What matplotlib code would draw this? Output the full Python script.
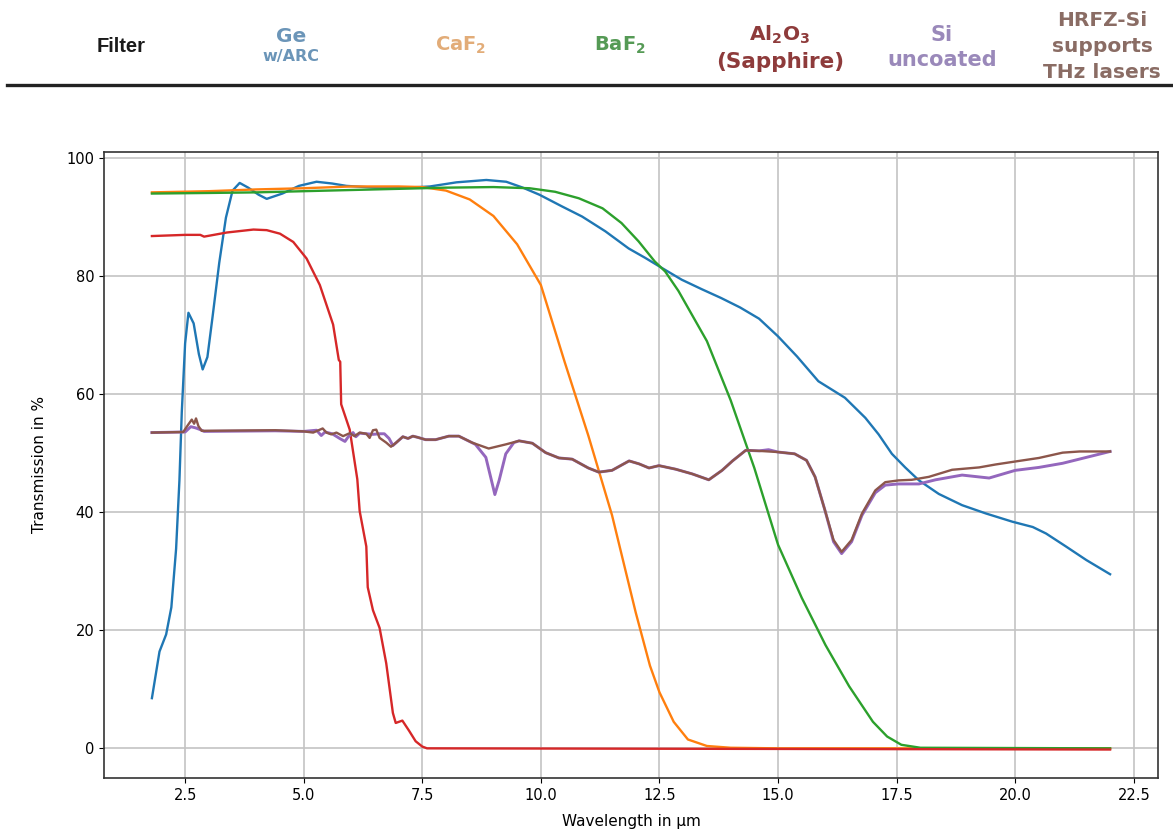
import matplotlib
matplotlib.use("Agg")
import matplotlib.pyplot as plt
from matplotlib.lines import Line2D

# Ge with anti-reflection coating
ge_x = [1.8, 1.96, 2.1, 2.21, 2.31, 2.38, 2.43, 2.5, 2.57, 2.68, 2.79, 2.87, 2.97, 3.08, 3.22, 3.36, 3.5,
        3.65, 3.83, 4.05, 4.22, 4.55, 4.9, 5.27, 5.6, 5.9, 6.5, 7.0, 7.44, 7.66, 8.22, 8.85, 9.27, 9.62,
        9.97, 10.45, 10.87, 11.36, 11.85, 12.2, 12.55, 12.97, 13.39, 13.8, 14.2, 14.6, 15.0, 15.4, 15.85,
        16.41, 16.84, 17.12, 17.4, 17.68, 17.97, 18.39, 18.88, 19.38, 19.94, 20.37, 20.65, 21.07, 21.5, 22.0]
ge_y = [8.5, 16.4, 19.3, 23.9, 33.8, 45.4, 57, 68.6, 73.8, 72, 66.8, 64.2, 66.3, 73.2, 82.3, 89.9, 94.5,
        95.8, 95, 93.8, 93.1, 94, 95.3, 96, 95.7, 95.3, 95.0, 95.0, 95.1, 95.2, 95.9, 96.3, 96.0, 95,
        93.8, 91.8, 90.1, 87.6, 84.7, 83.1, 81.4, 79.4, 77.8, 76.3, 74.7, 72.8, 69.8, 66.4, 62.2,
        59.4, 56, 53.2, 49.9, 47.6, 45.4, 43.1, 41.2, 39.8, 38.4, 37.5, 36.4, 34.2, 31.9, 29.5]

caf2_x = [1.8, 3, 4, 5, 6, 7, 7.5, 8.0, 8.5, 9.0, 9.5, 10.0, 10.5, 11.0, 11.5, 12.0, 12.3, 12.5, 12.8,
          13.1, 13.5, 14.0, 15, 22]
caf2_y = [94.2, 94.4, 94.7, 94.9, 95.2, 95.2, 95.1, 94.5, 93, 90.2, 85.4, 78.5, 65.5, 53, 39.5, 23, 14,
          9.5, 4.5, 1.5, 0.4, 0.1, 0, 0]

baf2_x = [1.8, 3, 4, 5, 6, 7, 8, 9, 9.76, 10.3, 10.8, 11.3, 11.7, 12.06, 12.4, 12.62, 12.9, 13.5, 14.0,
          14.5, 15.0, 15.5, 16.0, 16.5, 17.0, 17.3, 17.6, 18.0, 22]
baf2_y = [94.0, 94.1, 94.2, 94.4, 94.6, 94.8, 95.0, 95.1, 94.9, 94.3, 93.2, 91.5, 89, 85.9, 82.5, 80.8,
          77.5, 69, 59, 47.5, 34.5, 25.5, 17.5, 10.5, 4.5, 2, 0.6, 0.1, 0]

al2o3_x = [1.8, 2.5, 2.82, 2.9, 3.38, 3.94, 4.22, 4.5, 4.78, 5.06, 5.34, 5.62, 5.74, 5.77, 5.79, 5.97,
           6.13, 6.18, 6.32, 6.35, 6.46, 6.6, 6.74, 6.88, 6.94, 7.08, 7.22, 7.36, 7.5, 7.6, 15, 22]
al2o3_y = [86.8, 87.0, 87.0, 86.7, 87.4, 87.9, 87.8, 87.2, 85.8, 83, 78.5, 71.8, 65.8, 65.5, 58.3, 54,
           45.6, 40.2, 34.2, 27.3, 23.4, 20.4, 14.4, 6, 4.3, 4.7, 3.0, 1.2, 0.3, 0, -0.1, -0.2]

si_x = [1.8, 2.5, 2.62, 2.72, 2.82, 2.9, 4.4, 5.0, 5.27, 5.37, 5.45, 5.6, 5.76, 5.87, 5.94, 6.04, 6.1,
        6.18, 6.32, 6.46, 6.6, 6.7, 6.8, 6.88, 6.95, 7.09, 7.2, 7.3, 7.4, 7.57, 7.78, 8.06, 8.27, 8.62,
        8.84, 8.94, 9.03, 9.12, 9.26, 9.43, 9.54, 9.82, 10.1, 10.38, 10.66, 11.0, 11.22, 11.5, 11.86,
        12.07, 12.28, 12.49, 12.84, 13.19, 13.54, 13.82, 14.04, 14.32, 14.6, 14.8, 15.0, 15.35, 15.6,
        15.78, 15.99, 16.17, 16.34, 16.55, 16.77, 17.05, 17.26, 17.54, 17.97, 18.32, 18.88, 19.45, 20.0,
        20.5, 21.0, 21.5, 22.0]
si_y = [53.5, 53.6, 54.5, 54.3, 54.0, 53.7, 53.8, 53.7, 53.9, 53.0, 53.6, 53.3, 52.5, 52.0, 52.8, 53.5,
        52.8, 53.4, 53.3, 53.2, 53.3, 53.3, 52.5, 51.3, 51.8, 52.8, 52.5, 52.9, 52.7, 52.3, 52.3, 52.9,
        52.9, 51.5, 49.3, 46.0, 43.0, 45.4, 49.9, 51.8, 52.1, 51.7, 50.1, 49.2, 49.0, 47.5, 46.8, 47.1,
        48.7, 48.2, 47.5, 47.9, 47.3, 46.5, 45.5, 47.1, 48.7, 50.5, 50.4, 50.6, 50.2, 49.9, 48.8,
        46.0, 40.3, 35.0, 33.0, 35.0, 39.5, 43.3, 44.6, 44.8, 44.8, 45.5, 46.3, 45.8, 47.1,
        47.6, 48.3, 49.3, 50.3]

hrfz_x = [1.8, 2.46, 2.57, 2.64, 2.69, 2.73, 2.78, 2.85, 4.4, 5.0, 5.2, 5.4, 5.48, 5.58, 5.69, 5.83, 5.97,
          6.07, 6.18, 6.32, 6.39, 6.46, 6.53, 6.6, 6.74, 6.84, 6.95, 7.09, 7.2, 7.3, 7.4, 7.57, 7.78, 8.06,
          8.27, 8.55, 8.9, 9.26, 9.54, 9.82, 10.1, 10.38, 10.66, 11.0, 11.22, 11.5, 11.86, 12.07, 12.28,
          12.49, 12.84, 13.19, 13.54, 13.82, 14.04, 14.32, 14.6, 15.0, 15.35, 15.6, 15.78, 15.99, 16.17,
          16.34, 16.55, 16.77, 17.05, 17.26, 17.54, 17.82, 18.18, 18.67, 19.24, 19.59, 20.0, 20.5, 21.0,
          21.36, 22.0]
hrfz_y = [53.5, 53.6, 54.9, 55.7, 55.0, 55.9, 54.6, 53.8, 53.9, 53.7, 53.5, 54.2, 53.5, 53.2, 53.5, 52.9,
          53.4, 52.9, 53.5, 53.3, 52.6, 53.9, 54.0, 52.6, 51.8, 51.1, 51.8, 52.8, 52.5, 52.9, 52.7, 52.3,
          52.3, 52.9, 52.9, 51.8, 50.8, 51.5, 52.1, 51.7, 50.1, 49.2, 49.0, 47.5, 46.8, 47.1, 48.7, 48.2,
          47.5, 47.9, 47.3, 46.5, 45.5, 47.1, 48.7, 50.5, 50.4, 50.2, 49.9, 48.8, 46.0, 40.3, 35.3, 33.3,
          35.3, 39.8, 43.7, 45.1, 45.4, 45.5, 46.0, 47.2, 47.6, 48.1, 48.6, 49.2, 50.1, 50.3, 50.3]

W, H = 1173, 836
fig = plt.figure(figsize=(W / 100, H / 100), dpi=100)

# header row
bold = dict(family="DejaVu Sans", fontweight="bold", ha="center", va="center")
fig.text(121 / W, 1 - 47 / H, "Filter", family="Liberation Sans", fontweight="bold",
         fontsize=14.5, ha="center", va="center", color="#1a1a1a")
fig.text(291 / W, 1 - 37 / H, "Ge", fontsize=14.5, color="#6b95b8", **bold)
fig.text(291 / W, 1 - 57 / H, "w/ARC", fontsize=11.5, color="#6b95b8", **bold)
fig.text(461 / W, 1 - 45 / H, r"$\mathbf{CaF_2}$", fontsize=14, color="#e2ac78", **bold)
fig.text(620 / W, 1 - 45 / H, r"$\mathbf{BaF_2}$", fontsize=14, color="#559a55", **bold)
fig.text(780 / W, 1 - 35 / H, r"$\mathbf{Al_2O_3}$", fontsize=14.5, color="#8e3b3b", **bold)
fig.text(780 / W, 1 - 62 / H, "(Sapphire)", fontsize=15.5, color="#8e3b3b", **bold)
fig.text(942 / W, 1 - 35 / H, "Si", fontsize=15, color="#9a89ba", **bold)
fig.text(942 / W, 1 - 60 / H, "uncoated", fontsize=15, color="#9a89ba", **bold)
fig.text(1102 / W, 1 - 21 / H, "HRFZ-Si", fontsize=14.5, color="#8a6c64", **bold)
fig.text(1102 / W, 1 - 47 / H, "supports", fontsize=14.5, color="#8a6c64", **bold)
fig.text(1102 / W, 1 - 73 / H, "THz lasers", fontsize=14.5, color="#8a6c64", **bold)
fig.add_artist(Line2D([7 / W, 1], [1 - 85 / H, 1 - 85 / H], transform=fig.transFigure,
                      color="#222222", lw=2.4))

ax = fig.add_axes([104 / W, 1 - 778 / H, (1158 - 104) / W, (778 - 151.5) / H])
ax.plot(ge_x, ge_y, color="tab:blue", lw=1.7)
ax.plot(caf2_x, caf2_y, color="tab:orange", lw=1.7)
ax.plot(baf2_x, baf2_y, color="tab:green", lw=1.7)
ax.plot(al2o3_x, al2o3_y, color="tab:red", lw=1.7)
ax.plot(si_x, si_y, color="tab:purple", lw=2.1)
ax.plot(hrfz_x, hrfz_y, color="tab:brown", lw=1.7)

ax.set_xticks([2.5, 5.0, 7.5, 10.0, 12.5, 15.0, 17.5, 20.0, 22.5])
ax.set_yticks([0, 20, 40, 60, 80, 100])
ax.grid(True, color="#c4c4c4", lw=1.2)
ax.set_xlabel("Wavelength in µm", fontsize=11, labelpad=8)
ax.set_ylabel("Transmission in %", fontsize=11, labelpad=14)
ax.tick_params(labelsize=10.5)
for s in ax.spines.values():
    s.set_linewidth(1.2)
    s.set_color("#333333")

fig.savefig("out.png", dpi=100)
